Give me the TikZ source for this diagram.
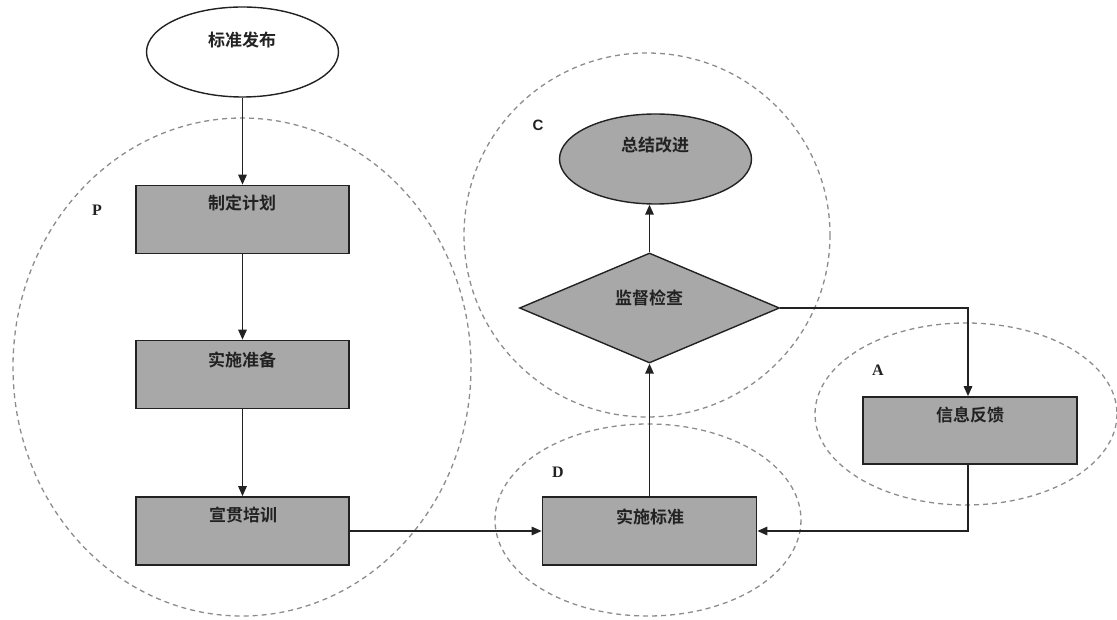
\documentclass[tikz,border=0pt]{standalone}
\usepackage{fontspec}
\setmainfont{Liberation Serif}
\newfontfamily\cjkfont{Noto Sans CJK SC Bold}
\newfontfamily\sansfont{Liberation Sans}
\usetikzlibrary{shapes.geometric,arrows.meta}
\definecolor{boxgray}{HTML}{A8A8A8}
\definecolor{dashgray}{HTML}{8C8C8C}
\definecolor{inkc}{HTML}{222222}
\tikzset{
  region/.style={draw=dashgray, line width=1.3pt, dash pattern=on 5pt off 4pt},
  procbox/.style={draw=inkc, fill=boxgray, line width=1.7pt, minimum width=213pt, minimum height=68pt, inner sep=0pt},
  termoval/.style={ellipse, draw=inkc, line width=1.4pt, minimum width=192pt, minimum height=90pt, inner sep=0pt},
  decide/.style={diamond, draw=inkc, fill=boxgray, line width=1.4pt, minimum width=260pt, minimum height=110pt, inner sep=0pt},
  txt/.style={font=\cjkfont\fontsize{17}{18}\selectfont, text=inkc, inner sep=0pt},
  phase/.style={font=\bfseries\fontsize{16}{17}\selectfont, text=inkc, inner sep=0pt},
  flow/.style={draw=inkc, line width=1.5pt, -{Triangle[length=10pt,width=8.5pt]}},
}
\begin{document}
\begin{tikzpicture}[x=1pt,y=-1pt]
\useasboundingbox (0,0) rectangle (1117,620);
% phase regions
\draw[region] (242,367) ellipse [x radius=229, y radius=249];
\draw[region] (647,235) ellipse [x radius=183, y radius=182];
\draw[region] (648,520) ellipse [x radius=153, y radius=96];
\draw[region] (966,414) ellipse [x radius=151, y radius=91];
% nodes
\node[termoval, fill=white] (e0) at (242.5,52) {};
\node[procbox] (b1) at (242.5,219.5) {};
\node[procbox] (b2) at (242.5,374.5) {};
\node[procbox] (b3) at (242.5,531) {};
\node[procbox, minimum width=214pt] (b4) at (649.5,531) {};
\node[procbox, minimum width=214pt, minimum height=67pt] (b5) at (970,430.5) {};
\node[decide] (d1) at (649.5,308) {};
\node[termoval, fill=boxgray] (e1) at (655.5,159) {};
% texts
\node[txt] (t0) at (242,40) {标准发布};
\node[txt] (t1) at (242,203) {制定计划};
\node[txt] (t2) at (242,360) {实施准备};
\node[txt] (t3) at (243,515) {宣贯培训};
\node[txt] (t4) at (650,517) {实施标准};
\node[txt] (t5) at (970,415) {信息反馈};
\node[txt] (t6) at (649,298) {监督检查};
\node[txt] (t7) at (655,145) {总结改进};
% phase labels
\node[phase] (lp) at (97,210) {P};
\node[phase, font=\sansfont\bfseries\fontsize{15}{16}\selectfont] (lc) at (538,125) {C};
\node[phase] (ld) at (558,472) {D};
\node[phase] (la) at (878,370) {A};
% connectors
\draw[flow] (e0.south) -- (b1.north);
\draw[flow] (b1.south) -- (b2.north);
\draw[flow] (b2.south) -- (b3.north);
\draw[flow] (b3.east) -- (b4.west);
\draw[flow] (b4.north) -- (d1.south);
\draw[flow] (d1.north) -- (d1.north |- e1.south);
\draw[flow] (d1.east) -| ([xshift=-2pt]b5.north);
\draw[flow] ([xshift=-2pt]b5.south) |- (b4.east);
\end{tikzpicture}
\end{document}
